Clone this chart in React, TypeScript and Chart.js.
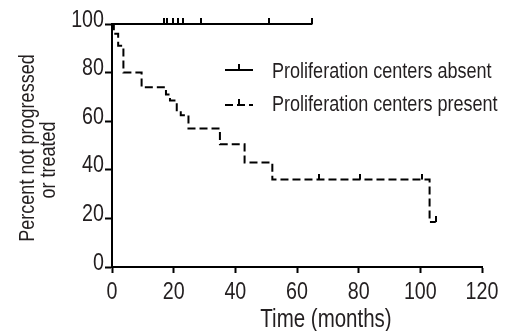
import React, { useEffect, useRef } from "react";
import { Chart, registerables } from "chart.js";

Chart.register(...registerables);

// ---- data ----
const xTicks = [0, 20, 40, 60, 80, 100, 120];
const yTicks = [0, 20, 40, 60, 80, 100];

const absentTimes = [0, 65];
const absentValues = [100, 100];
const absentCensorTimes = [17, 17.8, 19.9, 21.5, 23.1, 28.8, 51, 64.8];
const absentCensorValues = [100, 100, 100, 100, 100, 100, 100, 100];

const presentTimes = [0, 0.6, 2, 3.7, 9.6, 17.5, 18.8, 21, 22.3, 24.8, 35, 43, 52, 103, 105];
const presentValues = [100, 96, 91, 80, 74, 71, 68.5, 64.5, 62.5, 57, 50.5, 43, 36, 18.5, 18.5];
const presentCensorTimes = [67, 80.5, 100.5, 105];
const presentCensorValues = [36, 36, 36, 18.5];

const seriesLabels = ["Proliferation centers absent", "Proliferation centers present"];
const xTitle = "Time (months)";
const yTitleLines = ["Percent not progressed", "or treated"];

const FONT = "'Liberation Sans', Arial, sans-serif";
const INK = "#231f20";
const NARROW = 0.82;

function zip(xs: number[], ys: number[]) {
  return xs.map((x, i) => ({ x, y: ys[i] }));
}

function makeTick(): HTMLCanvasElement {
  const c = document.createElement("canvas");
  c.width = 2;
  c.height = 12;
  const g = c.getContext("2d")!;
  g.fillStyle = "#000";
  g.fillRect(0, 0, 2, 6);
  return c;
}

const origFill = CanvasRenderingContext2D.prototype.fillText;
function narrowFill(this: CanvasRenderingContext2D, text: string, x: number, y: number) {
  this.save();
  this.translate(x, y);
  this.scale(NARROW, 1);
  origFill.call(this, text, 0, 0);
  this.restore();
}
// used while the scales draw: y-axis labels (right aligned) sit a little above their tick
function scaleFill(this: CanvasRenderingContext2D, text: string, x: number, y: number) {
  const dy = this.textAlign === "right" ? -4 : 0;
  narrowFill.call(this, text, x, y + dy);
}

const textPlugin = {
  id: "texts",
  beforeDraw(chart: any) {
    (chart.ctx as any).fillText = scaleFill;
  },
  beforeDatasetsDraw(chart: any) {
    delete (chart.ctx as any).fillText;
  },
  afterDraw(chart: any) {
    const ctx = chart.ctx as CanvasRenderingContext2D;
    ctx.save();
    ctx.fillStyle = INK;
    // x title
    ctx.font = `25px ${FONT}`;
    ctx.textAlign = "center";
    ctx.textBaseline = "alphabetic";
    narrowFill.call(ctx, xTitle, 326, 327);
    // y titles
    ctx.font = `22px ${FONT}`;
    ctx.save();
    ctx.translate(34, 148);
    ctx.rotate(-Math.PI / 2);
    narrowFill.call(ctx, yTitleLines[0], 0, 0);
    ctx.restore();
    ctx.save();
    ctx.translate(55, 160);
    ctx.rotate(-Math.PI / 2);
    narrowFill.call(ctx, yTitleLines[1], 0, 0);
    ctx.restore();
    // legend
    ctx.textAlign = "left";
    ctx.textBaseline = "middle";
    ctx.font = `22px ${FONT}`;
    narrowFill.call(ctx, seriesLabels[0], 272, 72);
    narrowFill.call(ctx, seriesLabels[1], 272, 105);
    ctx.strokeStyle = "#000";
    ctx.lineWidth = 2;
    ctx.beginPath();
    ctx.moveTo(225, 70);
    ctx.lineTo(253, 70);
    ctx.moveTo(239, 70);
    ctx.lineTo(239, 64);
    ctx.stroke();
    ctx.setLineDash([8, 4]);
    ctx.beginPath();
    ctx.moveTo(225, 105);
    ctx.lineTo(253, 105);
    ctx.stroke();
    ctx.setLineDash([]);
    ctx.beginPath();
    ctx.moveTo(239, 105);
    ctx.lineTo(239, 99);
    ctx.stroke();
    ctx.restore();
  },
};

export default function App() {
  const ref = useRef<HTMLCanvasElement>(null);
  useEffect(() => {
    const tick = makeTick();
    const chart = new Chart(ref.current!, {
      type: "line",
      data: {
        datasets: [
          {
            label: seriesLabels[0],
            data: zip(absentTimes, absentValues),
            borderColor: "#000",
            borderWidth: 2,
            pointRadius: 0,
            stepped: "before",
            clip: false,
          } as any,
          {
            label: seriesLabels[1],
            data: zip(presentTimes, presentValues),
            borderColor: "#000",
            borderWidth: 2,
            borderDash: [8, 4],
            pointRadius: 0,
            stepped: "before",
            clip: false,
          } as any,
          {
            label: "absent censored",
            data: zip(absentCensorTimes, absentCensorValues),
            showLine: false,
            pointStyle: tick,
            pointRadius: 3,
            clip: false,
          } as any,
          {
            label: "present censored",
            data: zip(presentCensorTimes, presentCensorValues),
            showLine: false,
            pointStyle: tick,
            pointRadius: 3,
            clip: false,
          } as any,
        ],
      },
      options: {
        animation: false,
        responsive: false,
        events: [],
        layout: { padding: { top: 24, right: 26, left: 0, bottom: 0 } },
        plugins: { legend: { display: false }, tooltip: { enabled: false } },
        scales: {
          x: {
            type: "linear",
            min: 0,
            max: 120,
            afterFit: (s: any) => {
              s.height = 64;
            },
            afterBuildTicks: (s: any) => {
              s.ticks = xTicks.map((v) => ({ value: v }));
            },
            border: { display: true, color: "#000", width: 2 },
            grid: { display: true, drawOnChartArea: false, drawTicks: true, tickLength: 6, tickColor: "#000", tickWidth: 2 },
            ticks: { color: INK, font: { family: FONT, size: 24 }, padding: 5, maxRotation: 0 },
          },
          y: {
            type: "linear",
            min: 0,
            max: 100,
            afterFit: (s: any) => {
              s.width = 112;
            },
            afterBuildTicks: (s: any) => {
              s.ticks = yTicks.map((v) => ({ value: v }));
            },
            border: { display: true, color: "#000", width: 2 },
            grid: { display: true, drawOnChartArea: false, drawTicks: true, tickLength: 7, tickColor: "#000", tickWidth: 2 },
            ticks: { color: INK, font: { family: FONT, size: 24 }, padding: 1 },
          },
        },
      } as any,
      plugins: [textPlugin],
    });
    return () => chart.destroy();
  }, []);
  return (
    <div style={{ position: "fixed", left: 0, top: 0, width: 508, height: 331, background: "#fff" }}>
      <canvas ref={ref} width={508} height={331} />
    </div>
  );
}
